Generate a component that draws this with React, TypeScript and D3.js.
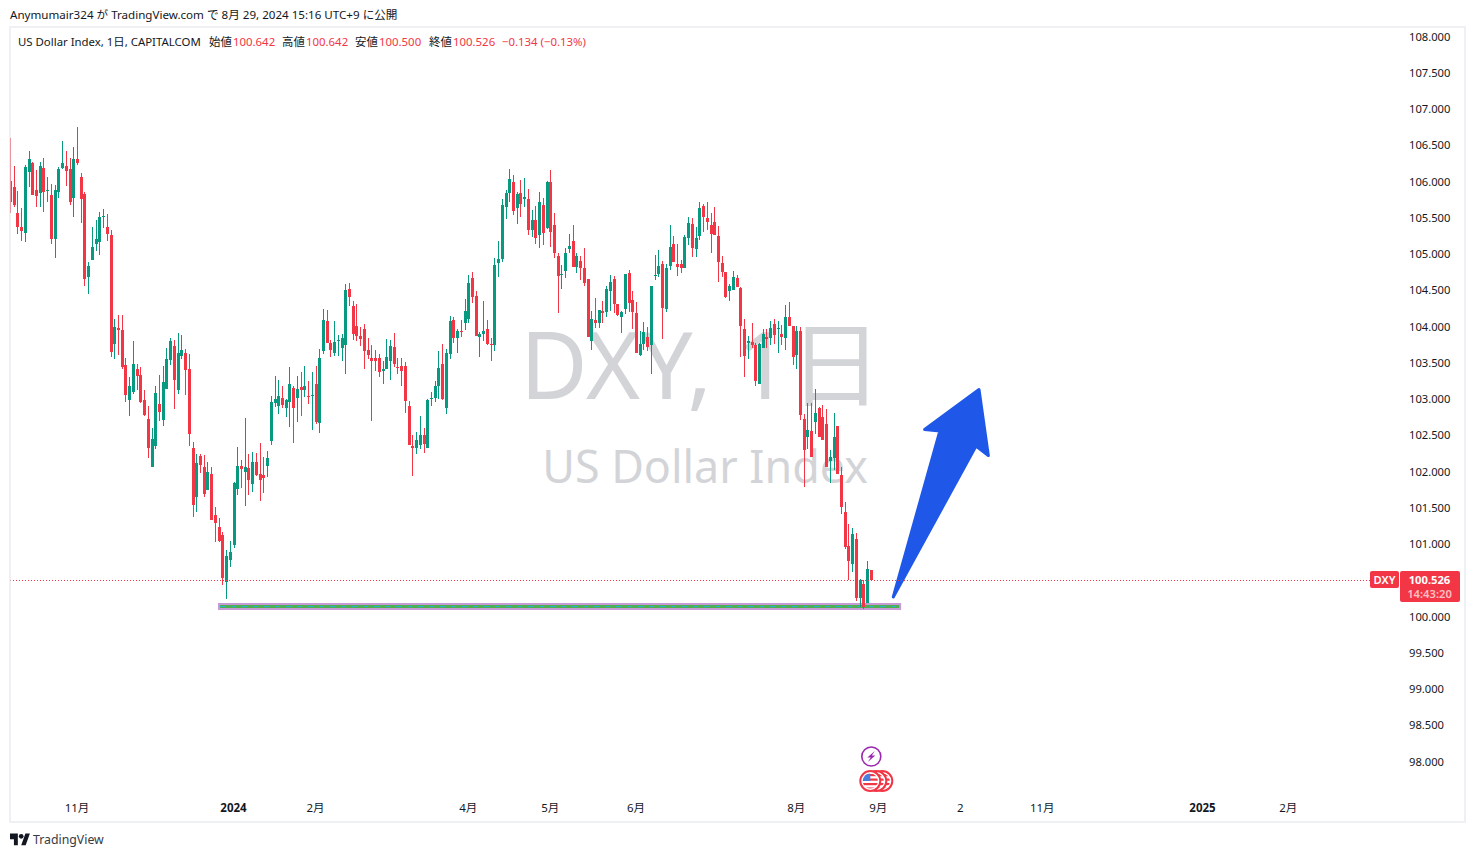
import { useEffect, useRef } from 'react';
import * as d3 from 'd3';

const opens = [
  106.01,105.92,105.56,105.37,105.29,106.13,106.25,105.88,105.84,106.19,
  105.87,105.81,105.21,105.85,106.19,106.21,106.17,105.77,106.31,106.06,
  105.83,104.68,104.92,105.14,105.16,105.51,105.37,105.26,103.76,103.98,
  103.95,103.47,102.98,103.09,103.41,103.33,102.98,102.72,102.06,102.35,
  102.93,102.71,103.14,103.54,103.73,103.12,103.59,103.63,103.41,102.32,
  101.65,102.21,102.06,101.74,101.96,101.40,101.23,101.12,100.47,100.78,
  100.98,101.76,102.07,102.00,102.05,101.83,102.13,101.96,101.95,102.07,
  102.42,102.94,102.90,103.01,102.88,102.96,103.15,103.01,103.16,103.12,
  103.04,103.04,103.21,102.67,103.66,104.08,103.77,103.63,103.80,103.70,
  103.74,104.52,104.28,104.01,103.87,103.97,103.67,103.56,103.56,103.56,
  103.39,103.41,103.52,103.72,103.44,103.45,103.45,102.90,102.35,102.32,
  102.36,102.50,102.32,103.00,103.01,103.18,103.48,102.88,103.62,104.09,
  103.84,103.94,104.05,104.10,104.67,104.42,103.85,103.90,103.96,103.76,
  103.74,104.88,104.93,105.65,105.84,105.99,105.64,105.84,105.76,105.76,
  105.33,105.47,105.26,105.68,105.36,105.99,105.40,104.97,104.71,104.77,
  105.07,105.18,104.82,104.90,104.81,104.66,103.80,104.09,104.05,104.21,
  104.20,104.49,104.66,104.31,104.13,104.24,104.74,104.37,104.19,103.61,
  103.76,103.85,103.74,104.70,104.72,104.86,104.24,104.83,105.14,104.86,
  104.86,104.81,105.22,105.41,105.07,105.25,105.66,105.50,105.40,105.44,
  105.25,104.88,104.75,104.49,104.50,104.67,104.53,103.97,103.77,103.79,
  103.74,103.21,103.70,103.85,103.84,104.03,103.97,103.90,103.84,104.13,
  104.01,103.61,103.94,102.72,102.47,102.56,102.68,102.88,102.75,102.65,
  102.14,102.18,102.63,101.95,101.44,100.97,100.72,101.07,100.26,100.45,
  100.19,100.64,
];

const closes = [
  105.72,105.68,105.37,105.32,106.20,106.31,105.81,105.80,106.21,105.85,
  105.88,105.21,105.88,106.17,106.25,106.14,105.72,106.31,106.25,105.76,
  104.65,104.83,105.10,105.21,105.51,105.52,105.27,103.65,103.99,103.95,
  103.44,103.05,103.18,103.48,103.32,102.96,102.78,102.32,102.45,103.08,
  102.82,103.23,103.55,103.80,103.26,103.63,103.67,103.40,102.52,101.54,
  102.12,102.09,101.69,101.99,101.33,101.29,101.04,100.53,100.83,100.89,
  101.84,102.07,102.03,102.06,101.88,102.13,101.95,101.88,101.91,102.19,
  102.96,103.00,103.04,102.92,102.99,103.21,102.88,103.14,103.12,103.18,
  103.03,103.05,102.68,103.56,104.09,103.77,103.67,103.79,103.81,103.84,
  104.50,104.41,103.90,103.87,103.83,103.66,103.61,103.52,103.52,103.37,
  103.41,103.58,103.73,103.48,103.43,103.39,102.97,102.36,102.32,102.43,
  102.50,102.38,102.99,103.01,103.18,103.43,103.00,103.63,104.08,103.84,
  103.94,103.92,104.21,104.60,104.41,103.87,103.90,103.94,103.76,103.74,
  104.85,104.93,105.68,105.84,106.04,105.59,105.83,105.69,105.79,105.33,
  105.47,105.22,105.72,105.29,105.99,105.30,105.01,104.70,104.72,105.01,
  105.11,104.82,104.97,104.81,104.60,103.85,104.10,104.05,104.23,104.19,
  104.52,104.61,104.31,104.16,104.20,104.72,104.32,104.20,103.63,103.76,
  103.92,103.72,104.56,104.71,104.83,104.25,104.81,105.10,104.89,104.82,
  104.81,105.23,105.43,105.08,105.22,105.63,105.51,105.44,105.28,105.26,
  104.89,104.75,104.41,104.56,104.68,104.54,104.01,103.59,103.80,103.74,
  103.25,103.76,103.90,103.83,103.98,103.88,103.98,103.85,104.13,104.01,
  103.58,103.94,102.78,102.30,102.57,102.20,102.81,102.47,102.43,102.06,
  102.20,102.47,101.96,101.51,100.96,100.77,101.14,100.26,100.50,100.13,
  100.66,100.51,
];

const highs = [
  106.60,106.21,105.87,105.63,106.23,106.42,106.27,106.16,106.27,106.32,
  106.06,105.96,105.95,106.20,106.56,106.42,106.32,106.48,106.75,106.12,
  105.85,104.89,105.37,105.47,105.58,105.62,105.55,105.33,104.10,104.16,
  104.16,103.56,103.30,103.80,103.48,103.44,103.12,102.90,102.60,103.18,
  103.33,103.45,103.70,103.84,103.81,103.91,103.88,103.69,103.62,102.41,
  102.24,102.24,102.23,102.13,102.06,101.51,101.36,101.16,100.92,101.04,
  101.85,102.34,102.16,102.74,102.24,102.27,102.25,102.39,102.20,102.28,
  103.04,103.32,103.26,103.18,103.00,103.44,103.18,103.32,103.37,103.45,
  103.25,103.37,103.45,103.69,104.24,104.23,103.81,104.08,103.88,103.90,
  104.59,104.60,104.35,104.31,103.99,104.03,103.84,103.74,103.67,103.62,
  103.52,103.83,103.81,103.91,103.56,103.56,103.51,102.97,102.50,102.54,
  102.76,102.60,103.00,103.10,103.25,103.66,103.76,103.69,104.14,104.13,
  103.96,104.09,104.38,104.71,104.75,104.49,103.92,104.35,104.09,103.84,
  104.95,105.18,105.76,105.88,106.17,106.09,105.86,106.02,106.05,105.90,
  105.61,105.66,105.86,105.77,106.01,106.16,105.57,105.01,104.85,105.08,
  105.28,105.40,105.01,104.97,105.08,104.66,104.21,104.39,104.23,104.35,
  104.56,104.71,104.70,104.31,104.21,104.72,104.78,104.49,104.34,103.94,
  104.06,103.99,104.56,104.99,105.06,104.90,104.86,105.40,105.25,105.14,
  104.92,105.26,105.51,105.50,105.37,105.72,105.69,105.72,105.57,105.65,
  105.39,104.97,104.75,104.59,104.77,104.71,104.54,104.10,103.87,104.05,
  103.77,103.77,103.97,103.97,104.08,104.10,104.08,104.02,104.30,104.34,
  104.01,104.01,103.99,102.79,102.94,102.94,103.14,102.89,102.92,102.86,
  102.30,102.81,102.63,102.06,101.58,101.28,101.22,101.15,100.52,100.50,
  100.77,100.64,
];

const lows = [
  105.57,105.65,105.27,105.18,105.16,105.92,105.81,105.65,105.65,105.58,
  105.72,105.14,104.94,105.77,106.17,105.94,105.68,105.51,106.23,105.43,
  104.56,104.45,104.92,105.04,104.99,105.36,105.18,103.58,103.55,103.61,
  103.41,102.96,102.76,103.07,103.12,102.94,102.76,102.18,102.06,102.31,
  102.69,102.63,103.14,103.47,102.86,103.07,103.55,103.05,102.35,101.37,
  101.44,101.98,101.65,101.74,101.33,101.03,101.03,100.43,100.24,100.68,
  100.94,101.67,101.77,101.52,101.67,101.72,101.94,101.59,101.70,101.92,
  102.36,102.89,102.79,102.88,102.75,102.61,102.39,102.68,102.76,103.03,
  102.93,102.57,102.65,102.53,103.62,103.77,103.58,103.59,103.59,103.52,
  103.34,104.28,103.81,103.80,103.73,103.41,103.55,102.70,103.39,103.30,
  103.21,103.41,103.26,103.44,103.34,103.18,102.81,102.36,101.94,102.24,
  102.31,102.25,102.32,102.90,102.96,103.00,102.99,102.79,103.55,103.77,
  103.63,103.85,103.95,104.05,104.32,103.87,103.58,103.80,103.74,103.52,
  103.66,104.68,104.89,105.48,105.72,105.54,105.41,105.51,105.65,105.26,
  105.23,105.14,105.08,105.12,105.34,105.10,104.95,104.19,104.52,104.67,
  105.01,104.82,104.74,104.64,104.56,103.85,103.68,103.98,103.98,104.05,
  104.13,104.21,104.19,104.14,103.91,104.17,104.20,103.96,103.63,103.59,
  103.68,103.66,103.34,104.64,104.68,103.83,104.20,104.78,104.89,104.70,
  104.74,104.81,105.12,104.96,104.96,105.19,105.30,105.33,105.01,105.26,
  104.61,104.68,104.39,104.35,104.50,104.54,103.58,103.30,103.55,103.70,
  103.18,103.21,103.70,103.70,103.74,103.76,103.63,103.74,103.68,104.01,
  103.47,103.41,102.71,101.78,102.31,102.20,102.52,102.47,102.43,102.06,
  101.84,102.02,101.96,101.41,100.93,100.50,100.61,100.21,100.13,100.10,
  100.19,100.49,
];

const priceTicks = [108, 107.5, 107, 106.5, 106, 105.5, 105, 104.5, 104, 103.5, 103, 102.5, 102, 101.5, 101, 100, 99.5, 99, 98.5, 98];
const timeTickBars = [18, 60, 82, 123, 145, 168, 211, 233, 255, 277, 320, 343];
const timeTickLabels = ['11月', '2024', '2月', '4月', '5月', '6月', '8月', '9月', '2', '11月', '2025', '2月'];

const supportBars = [55.7, 239];
const supportPrices = [100.186, 100.09];
const arrowBars = [236.9, 249.4, 245.3, 259.9, 262.4, 259.1];
const arrowPrices = [100.27, 102.56, 102.58, 103.13, 102.22, 102.35];

const RED = '#f23645';
const GREEN = '#089981';
const FONT = "'Noto Sans', 'Noto Sans CJK JP', sans-serif";

const legendParts: [number, string, string][] = [
  [18, 'US Dollar Index, 1日, CAPITALCOM', '#131722'],
  [209, '始値', '#131722'],
  [233, '100.642', RED],
  [282, '高値', '#131722'],
  [306, '100.642', RED],
  [355, '安値', '#131722'],
  [379, '100.500', RED],
  [429, '終値', '#131722'],
  [453, '100.526', RED],
  [502, '−0.134 (−0.13%)', RED],
];

export default function App() {
  const svgRef = useRef<SVGSVGElement | null>(null);

  useEffect(() => {
    if (!svgRef.current) return;
    const svg = d3.select(svgRef.current);
    svg.selectAll('*').remove();

    const x = d3.scaleLinear().domain([0, opens.length - 1]).range([10.4, 871.3]);
    const y = d3.scaleLinear().domain([108, 98]).range([36.5, 761.5]);
    const py = (v: number) => Math.round(y(v));

    const defs = svg.append('defs');
    defs.append('clipPath').attr('id', 'pane').append('rect')
      .attr('x', 10).attr('y', 27).attr('width', 1455).attr('height', 795);
    defs.append('clipPath').attr('id', 'flag').append('circle').attr('r', 7.6);

    svg.append('rect').attr('width', 1475).attr('height', 857).attr('fill', '#fff');

    // Watermark
    svg.append('text')
      .attr('x', 701).attr('y', 399).attr('text-anchor', 'middle')
      .attr('font-family', FONT).attr('font-size', 92.8).attr('fill', '#d3d4d8')
      .text('DXY, 1日');
    svg.append('text')
      .attr('x', 705).attr('y', 483).attr('text-anchor', 'middle')
      .attr('font-family', FONT).attr('font-size', 44.8).attr('fill', '#d3d4d8')
      .text('US Dollar Index');

    // Support box
    const boxX = x(supportBars[0]);
    const boxW = x(supportBars[1]) - boxX;
    const boxY = y(supportPrices[0]);
    const boxH = y(supportPrices[1]) - boxY;
    svg.append('rect')
      .attr('x', boxX + 1).attr('y', boxY + 1).attr('width', boxW - 2).attr('height', boxH - 2)
      .attr('fill', '#4caf50').attr('stroke', '#c79bd6').attr('stroke-width', 2);
    svg.append('line')
      .attr('x1', boxX + 2).attr('x2', boxX + boxW - 2)
      .attr('y1', boxY + boxH / 2).attr('y2', boxY + boxH / 2)
      .attr('stroke', '#22b8cf').attr('stroke-dasharray', '5,6');

    // Candles
    const candles = svg.append('g').attr('clip-path', 'url(#pane)').attr('shape-rendering', 'crispEdges');
    const idx = d3.range(opens.length);
    const colorOf = (i: number) => (closes[i] >= opens[i] ? GREEN : RED);
    candles.selectAll('.wick').data(idx).enter().append('rect')
      .attr('x', (i) => Math.floor(x(i)))
      .attr('y', (i) => py(highs[i]))
      .attr('width', 1)
      .attr('height', (i) => py(lows[i]) - py(highs[i]))
      .attr('fill', colorOf);
    candles.selectAll('.body').data(idx).enter().append('rect')
      .attr('x', (i) => Math.floor(x(i)) - 1)
      .attr('y', (i) => py(Math.max(opens[i], closes[i])))
      .attr('width', 3)
      .attr('height', (i) => Math.max(1, py(Math.min(opens[i], closes[i])) - py(Math.max(opens[i], closes[i]))))
      .attr('fill', colorOf);

    // Arrow drawing
    const arrowLine = d3.line<number>().x((i) => x(arrowBars[i])).y((i) => y(arrowPrices[i]));
    svg.append('path')
      .attr('d', arrowLine(d3.range(arrowBars.length)) + 'Z')
      .attr('fill', '#1f58e8').attr('stroke', '#1f58e8')
      .attr('stroke-width', 3).attr('stroke-linejoin', 'round');

    // Last price line
    const lastClose = closes[closes.length - 1];
    svg.append('line')
      .attr('x1', 10).attr('x2', 1370)
      .attr('y1', py(lastClose) + 0.5).attr('y2', py(lastClose) + 0.5)
      .attr('stroke', RED).attr('stroke-dasharray', '1,2');

    // Pane border
    svg.append('rect')
      .attr('x', 10).attr('y', 27).attr('width', 1455).attr('height', 795)
      .attr('fill', 'none').attr('stroke', '#e0e3eb').attr('stroke-opacity', 0.55).attr('stroke-width', 2);

    // Price axis
    const yAxis = svg.append('g')
      .attr('transform', 'translate(1409,0.5)')
      .call(d3.axisRight(y).tickValues(priceTicks).tickSize(0).tickPadding(0).offset(0).tickFormat(d3.format('.3f') as any));
    yAxis.select('.domain').remove();
    yAxis.selectAll('text')
      .attr('font-family', FONT).attr('font-size', 11.2).attr('fill', '#131722');

    // Time axis
    const xAxis = svg.append('g')
      .attr('transform', 'translate(-0.5,804)')
      .call(d3.axisBottom(x).tickValues(timeTickBars).tickSize(0).tickPadding(0).offset(0)
        .tickFormat((_d, i) => timeTickLabels[i]));
    xAxis.select('.domain').remove();
    xAxis.selectAll('text')
      .attr('font-family', FONT).attr('font-size', 11.5).attr('fill', '#131722')
      .attr('font-weight', (_d, i) => (timeTickLabels[i].length === 4 ? 700 : 400));

    // Last price tags
    svg.append('rect').attr('x', 1370).attr('y', 571).attr('width', 29).attr('height', 17).attr('rx', 2).attr('fill', RED);
    svg.append('rect').attr('x', 1400).attr('y', 571).attr('width', 60).attr('height', 31).attr('rx', 2).attr('fill', RED);
    svg.append('text').attr('x', 1384.5).attr('y', 584).attr('text-anchor', 'middle')
      .attr('font-family', FONT).attr('font-size', 11.2).attr('font-weight', 600).attr('fill', '#fff').text('DXY');
    svg.append('text').attr('x', 1429.5).attr('y', 584).attr('text-anchor', 'middle')
      .attr('font-family', FONT).attr('font-size', 11.2).attr('font-weight', 700).attr('fill', '#fff').text('100.526');
    svg.append('text').attr('x', 1429.5).attr('y', 598).attr('text-anchor', 'middle')
      .attr('font-family', FONT).attr('font-size', 11.2).attr('font-weight', 600).attr('fill', '#fff').attr('fill-opacity', 0.7).text('14:43:20');

    // Event icons
    const iconX = x(opens.length - 1);
    const bolt = svg.append('g').attr('transform', `translate(${iconX},756.5)`);
    bolt.append('circle').attr('r', 9.5).attr('fill', '#fff').attr('stroke', '#9c27b0').attr('stroke-width', 1.6);
    bolt.append('path').attr('d', 'M3.5,-5.5 L-4,1 L-0.5,1 L-3.5,5.5 L4,-1 L0.5,-1 Z').attr('fill', '#9c27b0');
    [12, 6, 0].forEach((dx) => {
      const flag = svg.append('g').attr('transform', `translate(${iconX - 1 + dx},781)`);
      flag.append('circle').attr('r', 10).attr('fill', '#fff').attr('stroke', RED).attr('stroke-width', 2);
      const inner = flag.append('g').attr('clip-path', 'url(#flag)');
      d3.range(-7, 8, 4.5).forEach((sy) => {
        inner.append('rect').attr('x', -9).attr('y', sy).attr('width', 18).attr('height', 2.2).attr('fill', RED);
      });
      inner.append('rect').attr('x', -9).attr('y', -9).attr('width', 9).attr('height', 9).attr('fill', '#4a7fe0');
    });

    // Header and legend
    svg.append('text').attr('x', 10).attr('y', 19)
      .attr('font-family', FONT).attr('font-size', 11.6).attr('fill', '#131722')
      .text('Anymumair324 が TradingView.com で 8月 29, 2024 15:16 UTC+9 に公開');
    svg.selectAll('.legend').data(legendParts).enter().append('text')
      .attr('x', (d) => d[0]).attr('y', 46)
      .attr('font-family', FONT).attr('font-size', 11.4)
      .attr('fill', (d) => d[2])
      .text((d) => d[1]);

    // Logo
    const logo = svg.append('g').attr('transform', 'translate(10,833) scale(0.56)').attr('fill', '#131722');
    logo.append('path').attr('d', 'M14 22H7V11H0V1h14v21zM28 22h-8l7.5-21h8L28 22z');
    logo.append('circle').attr('cx', 20).attr('cy', 6).attr('r', 4.2);
    svg.append('text').attr('x', 33).attr('y', 844)
      .attr('font-family', FONT).attr('font-size', 12.3).attr('fill', '#363a45').text('TradingView');
  }, []);

  return <svg ref={svgRef} width={1475} height={857} style={{ position: 'absolute', left: 0, top: 0, display: 'block' }} />;
}
